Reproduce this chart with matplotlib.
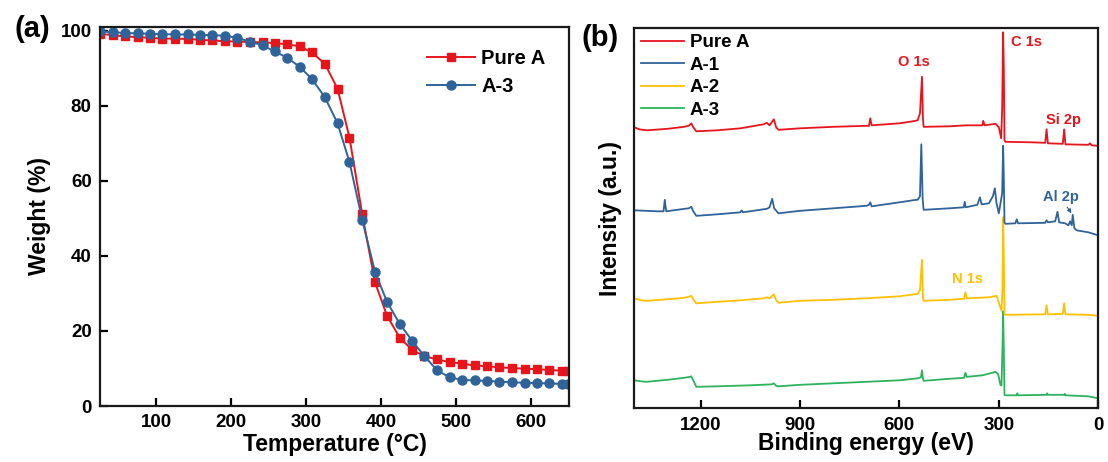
import matplotlib
matplotlib.use('Agg')
import matplotlib.pyplot as plt

plt.rcParams['font.family'] = ['Liberation Sans', 'DejaVu Sans']
plt.rcParams['font.weight'] = 'bold'
plt.rcParams['axes.labelweight'] = 'bold'

RED = '#E8141C'
BLUE = '#2F6399'
YELLOW = '#FFC000'
GREEN = '#2DB25E'

# ---- TGA data (a) ----
temp = [25, 42, 58, 75, 92, 108, 125, 142, 158, 175, 192, 208, 225, 242, 258,
        275, 292, 308, 325, 342, 358, 375, 392, 408, 425, 442, 458, 475, 492,
        508, 525, 542, 558, 575, 592, 608, 625, 642, 650]
weight_pure = [99.2, 98.8, 98.5, 98.3, 98.1, 97.9, 97.9, 97.8, 97.6, 97.4, 97.2,
               97.1, 97.0, 96.9, 96.7, 96.4, 95.8, 94.2, 91.2, 84.6, 71.5, 51.1,
               33.0, 24.1, 18.2, 14.9, 13.3, 12.4, 11.7, 11.3, 10.8, 10.6, 10.3,
               10.1, 9.96, 9.8, 9.6, 9.4, 9.4]
weight_a3 = [99.8, 99.6, 99.4, 99.3, 99.2, 99.1, 99.0, 99.0, 98.9, 98.8, 98.7,
             98.1, 97.1, 96.1, 94.5, 92.8, 90.3, 87.1, 82.3, 75.4, 65.0, 49.6,
             35.8, 27.8, 21.9, 17.3, 13.3, 9.5, 7.6, 7.0, 6.8, 6.7, 6.5, 6.3,
             6.2, 6.1, 6.0, 5.9, 5.9]

# ---- XPS survey spectra (b), stacked intensities ----
be_pure = [1400, 1385, 1363, 1300, 1250, 1236, 1228, 1222, 1213, 1150, 1080, 1010,
           1000, 992, 979, 972, 965, 900, 800, 700, 692, 688, 684, 600, 560, 545,
           538, 532, 529, 527, 450, 400, 350, 347, 343, 310, 300, 293, 290, 287,
           285, 283, 280, 200, 160, 156, 152, 107, 103, 99, 30, 25, 20, 0]
int_pure = [281, 279, 278, 279.5, 281.5, 282.5, 285, 281, 277, 278, 280, 284,
            285.5, 283, 289, 281, 278.5, 280, 281.5, 282.5, 282.5, 290, 283, 285,
            287, 288, 295, 331.5, 290, 281.5, 282, 283, 283, 287.5, 283, 284.5,
            281, 270, 300, 376, 340, 268, 266.5, 266, 265.5, 279, 265, 264.5, 279,
            264, 263.5, 265, 263, 262.5]

be_a1 = [1400, 1330, 1312, 1308, 1304, 1260, 1236, 1228, 1222, 1213, 1150, 1080,
         1076, 1072, 1000, 992, 984, 978, 965, 900, 800, 700, 692, 688, 684, 600,
         550, 545, 538, 534, 530, 527, 450, 406, 403, 400, 365, 357, 352, 330, 318,
         312, 307, 300, 290, 287, 285, 283, 280, 250, 246, 242, 160, 156, 152, 130,
         123, 118, 100, 90, 85, 80, 77, 72, 65, 30, 0]
int_a1 = [198, 197, 197, 208.5, 197, 199, 200, 201.5, 197, 192.5, 194, 196, 198,
          196, 199.5, 201, 209.5, 200, 195, 197.5, 200, 202.5, 203.5, 206, 202, 206,
          208.5, 208.5, 212, 264, 210, 198.5, 200, 201, 206.5, 201, 203.5, 211, 204,
          205, 212, 220, 205, 195, 215, 262.5, 230, 186, 184.5, 185, 189, 185,
          185.5, 188, 186, 187, 196.5, 186, 185, 183, 187, 183, 193.5, 180, 178,
          176, 173]

be_a2 = [1400, 1380, 1363, 1300, 1250, 1236, 1228, 1222, 1213, 1150, 1080, 1010,
         1000, 992, 979, 972, 965, 900, 800, 700, 600, 545, 538, 532, 529, 527, 450,
         405, 401, 397, 330, 307, 292, 289, 287, 285, 283, 280, 160, 156, 152, 107,
         103, 99, 30, 0]
int_a2 = [110, 108, 107.5, 109, 110.5, 111.5, 112.5, 109, 105, 106.5, 108, 110, 111,
          110, 114, 108, 105.5, 107.5, 108.5, 110, 112, 114.5, 118, 148.5, 110, 107.5,
          108.5, 109.5, 116, 110, 111, 112.5, 97.5, 120, 191, 150, 94, 93.5, 94, 103,
          94, 94.5, 105, 94, 93.5, 92.5]

be_a3 = [1400, 1380, 1363, 1300, 1250, 1232, 1228, 1222, 1213, 1150, 1050, 985,
         979, 972, 965, 900, 800, 700, 600, 545, 535, 532, 529, 527, 450, 405, 401,
         397, 350, 320, 310, 302, 295, 292, 289, 287, 285, 283, 280, 246, 244, 242,
         156, 154, 152, 103, 101, 99, 30, 0]
int_a3 = [28, 27, 26.5, 28.5, 30.5, 31.5, 32, 28, 21.5, 22, 23, 24, 25, 22.5, 22,
          23.5, 25, 26.5, 28, 30, 31, 38, 30, 27.5, 29.5, 30.5, 35.5, 31.5, 33, 35.5,
          36.5, 34, 23, 23, 60, 97, 60, 13.5, 13, 13, 15, 13, 13.5, 15, 13.5, 13.5,
          14.5, 13, 12, 10]


def style_axes(ax):
    for sp in ax.spines.values():
        sp.set_linewidth(1.6)
        sp.set_color('#1a1a1a')
    ax.tick_params(direction='in', length=6, width=1.6, labelsize=13.5, pad=6)


fig = plt.figure(figsize=(11.08, 4.62), dpi=100)
ax1 = fig.add_axes([0.0903, 0.1212, 0.4232, 0.8204])
ax2 = fig.add_axes([0.5725, 0.1162, 0.4187, 0.8225])

# (a) TGA curves
ax1.plot(temp, weight_pure, '-s', color=RED, lw=1.4, ms=6, label='Pure A')
ax1.plot(temp, weight_a3, '-o', color=BLUE, lw=1.4, ms=6.5, label='A-3')
ax1.set_xlim(25, 651)
ax1.set_ylim(0, 101)
ax1.set_xticks([100, 200, 300, 400, 500, 600])
ax1.set_yticks([0, 20, 40, 60, 80, 100])
style_axes(ax1)
ax1.set_xlabel('Temperature (°C)', fontsize=16.5)
ax1.set_ylabel('Weight (%)', fontsize=16.5)
ax1.xaxis.set_label_coords(0.501, -0.071)
ax1.yaxis.set_label_coords(-0.104, 0.5)
ax1.legend(loc='upper left', bbox_to_anchor=(427 / 1108, 1 - 49 / 462),
           bbox_transform=fig.transFigure, frameon=False, fontsize=14.5,
           handlelength=2.4, handletextpad=0.3, labelspacing=0.45,
           borderpad=0, borderaxespad=0)

# (b) XPS survey spectra
ax2.plot(be_pure, int_pure, color=RED, lw=1.3, label='Pure A')
ax2.plot(be_a2, int_a2, color=YELLOW, lw=1.3, label='A-2', zorder=1.9)
ax2.plot(be_a1, int_a1, color=BLUE, lw=1.3, label='A-1')
ax2.plot(be_a3, int_a3, color=GREEN, lw=1.3, label='A-3', zorder=1.8)
ax2.set_xlim(1400, 0)
ax2.set_ylim(0, 380)
ax2.set_xticks([1200, 900, 600, 300, 0])
ax2.set_yticks([])
style_axes(ax2)
ax2.set_xlabel('Binding energy (eV)', fontsize=16.5)
ax2.set_ylabel('Intensity (a.u.)', fontsize=16.5)
ax2.xaxis.set_label_coords(0.5, -0.062)
ax2.yaxis.set_label_coords(-0.027, 0.5)

h, l = ax2.get_legend_handles_labels()
order = [l.index(n) for n in ['Pure A', 'A-1', 'A-2', 'A-3']]
ax2.legend([h[i] for i in order], [l[i] for i in order], loc='upper left',
           bbox_to_anchor=(641 / 1108, 1 - 34 / 462), bbox_transform=fig.transFigure,
           frameon=False, fontsize=13.5, handlelength=2.3, handletextpad=0.3,
           labelspacing=0.29, borderpad=0, borderaxespad=0)

# peak labels
ax2.text(557, 346.6, 'O 1s', color=RED, fontsize=10.5, ha='center', va='center')
ax2.text(216, 366.6, 'C 1s', color=RED, fontsize=10.5, ha='center', va='center')
ax2.text(106, 288.3, 'Si 2p', color=RED, fontsize=10.5, ha='center', va='center')
ax2.text(394, 129, 'N 1s', color=YELLOW, fontsize=10.5, ha='center', va='center')
ax2.annotate('Al 2p', xy=(81, 195), xytext=(114, 211), color=BLUE, fontsize=10.5,
             ha='center', va='center',
             arrowprops=dict(arrowstyle='-|>', color=BLUE, lw=0.8,
                             mutation_scale=6, shrinkA=6, shrinkB=0))

fig.text(0.029, 0.937, '(a)', fontsize=21, ha='center', va='center')
fig.text(0.542, 0.918, '(b)', fontsize=21, ha='center', va='center')

fig.savefig('out.png', dpi=100)
